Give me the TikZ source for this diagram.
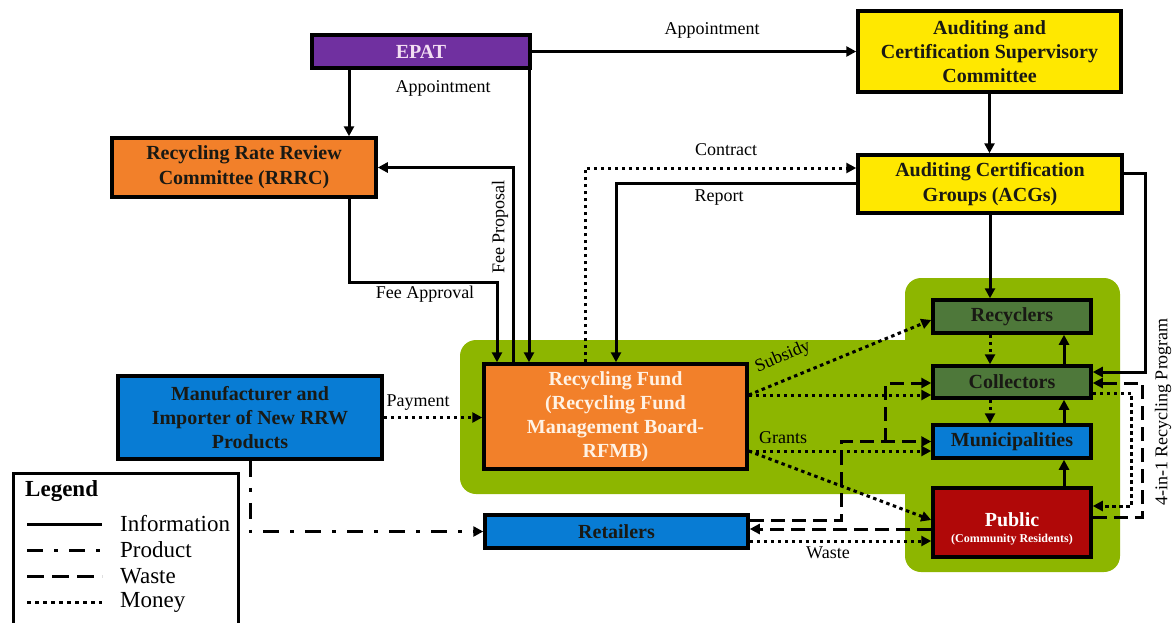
\documentclass[tikz,border=0pt]{standalone}
\usepackage{fontspec}
\setmainfont{Liberation Serif}
\usetikzlibrary{arrows.meta,calc}
\definecolor{cpurple}{RGB}{112,48,160}
\definecolor{cyellow}{RGB}{255,232,0}
\definecolor{corange}{RGB}{242,128,42}
\definecolor{cblue}{RGB}{8,124,212}
\definecolor{cdkgreen}{RGB}{78,120,58}
\definecolor{cred}{RGB}{176,8,8}
\definecolor{cbg}{RGB}{141,182,0}
\definecolor{epattext}{RGB}{242,222,242}
\definecolor{rftext}{RGB}{255,242,228}
\definecolor{darktext}{RGB}{25,25,20}
\tikzset{
  box/.style={draw=black, line width=3.5pt, inner sep=0pt, align=center, text=darktext,
    font=\fontsize{20}{24}\selectfont\bfseries},
  ln/.style={line width=3pt},
  arr/.style={-{Triangle[length=10pt,width=10pt]}},
  info/.style={ln},
  money/.style={ln, dash pattern=on 3.5pt off 3.5pt},
  waste/.style={ln, dash pattern=on 14pt off 7pt},
  product/.style={ln, dash pattern=on 16pt off 11pt on 4pt off 11pt},
  lbl/.style={font=\fontsize{18}{20}\selectfont, inner sep=1pt, text=black},
  legtxt/.style={font=\fontsize{23}{26}\selectfont, inner sep=0pt, anchor=west}
}
\begin{document}
\begin{tikzpicture}[x=1pt,y=-1pt]
\useasboundingbox (0,0) rectangle (1174,622);
% green background
\fill[cbg, rounded corners=16pt] (460,340) rectangle (1000,494);
\fill[cbg, rounded corners=16pt] (905,278) rectangle (1120,572);

% nodes
\node[box, fill=cpurple, text=epattext, minimum width=218pt, minimum height=33pt] (epat) at (421,51.5) {EPAT};
\node[box, fill=cyellow, minimum width=263pt, minimum height=81pt] (acsc) at (989.5,51.5) {Auditing and\\Certification Supervisory\\Committee};
\node[box, fill=corange, minimum width=264pt, minimum height=59pt, font=\fontsize{20}{25}\selectfont\bfseries] (rrrc) at (244,167.5) {Recycling Rate Review\\Committee (RRRC)};
\node[box, fill=cyellow, minimum width=264pt, minimum height=58pt, font=\fontsize{20}{25}\selectfont\bfseries] (acg) at (990,184) {Auditing Certification\\Groups (ACGs)};
\node[box, fill=corange, text=rftext, minimum width=263pt, minimum height=105pt] (rf) at (615.5,416.5) {Recycling Fund\\(Recycling Fund\\Management Board-\\RFMB)};
\node[box, fill=cblue, minimum width=264pt, minimum height=83pt] (man) at (250,417.5) {Manufacturer and\\Importer of New RRW\\Products};
\node[box, fill=cblue, minimum width=263pt, minimum height=33pt] (ret) at (616.5,531.5) {Retailers};
\node[box, fill=cdkgreen, minimum width=158pt, minimum height=33pt] (rec) at (1012,316.5) {Recyclers};
\node[box, fill=cdkgreen, minimum width=158pt, minimum height=32pt] (col) at (1012,382) {Collectors};
\node[box, fill=cblue, minimum width=158pt, minimum height=33pt] (mun) at (1012,441.5) {Municipalities};
\node[box, fill=cred, text=white, minimum width=158pt, minimum height=69pt] (pub) at (1012,522.5) {{\fontsize{20}{24}\selectfont\rule{0pt}{26pt}Public}\\[-8pt]{\fontsize{12}{14}\selectfont (Community Residents)}};

% connectors
\draw[info, arr] (epat.east) -- (acsc.west);
\draw[info, arr] ([xshift=-72pt]epat.south) -- ([xshift=105pt]rrrc.north);
\draw[info, arr] ([xshift=108pt]epat.south) -- ([xshift=-86.5pt]rf.north);
\draw[info, arr] ([xshift=-102.5pt]rf.north) |- (rrrc.east);
\draw[info, arr] ([xshift=105pt]rrrc.south) -- ++(0,84) -| ([xshift=-118.5pt]rf.north);
\draw[money, arr] ([xshift=-30.5pt]rf.north) |- ([yshift=16pt]acg.west);
\draw[info, arr] ([yshift=1pt]acg.west) -| ([xshift=0.5pt]rf.north);
\draw[info, arr] (acsc.south) -- (acsc.south |- acg.north);
\draw[info, arr] (acg.south) -- (acg.south |- rec.north);
\draw[info, arr] ([yshift=11pt]acg.east) -- ++(22,0) |- ([yshift=10pt]col.east);
\draw[waste, arr] ([yshift=5.5pt]pub.east) -- ++(50,0) |- ([yshift=-1pt]col.east);
\draw[money, arr] ([yshift=-11pt]col.east) -- ++(39,0) |- ([yshift=16.5pt]pub.east);

\draw[info, arr] ([xshift=52pt]pub.north) -- ([xshift=52pt]mun.south);
\draw[info, arr] ([xshift=52pt]mun.north) -- ([xshift=52pt]col.south);
\draw[info, arr] ([xshift=52pt]col.north) -- ([xshift=52pt]rec.south);
\draw[money, arr] ([xshift=-22pt]rec.south) -- ([xshift=-22pt]col.north);
\draw[money, arr] ([xshift=-22pt]col.south) -- ([xshift=-22pt]mun.north);

\draw[money, arr] ([yshift=21.5pt]rf.east) -- ([yshift=-3.5pt]rec.west);
\draw[money, arr] ([yshift=21.5pt]rf.east) -- ([yshift=-13pt]col.west);
\draw[money, arr] ([yshift=-34.5pt]rf.east) -- ([yshift=-9.5pt]mun.west);
\draw[money, arr] ([yshift=-34.5pt]rf.east) -- ([yshift=2.5pt]pub.west);

\draw[waste, arr] ([yshift=11.5pt]ret.east) -- ++(92,0) |- (mun.west);
\draw[waste, arr] ([xshift=-46pt]mun.west) |- ([yshift=-1pt]col.west);
\draw[waste, arr] ([yshift=-6.5pt]pub.west) -- ([yshift=2.5pt]ret.east);
\draw[money, arr] ([yshift=-9.5pt]ret.east) -- ([yshift=-18.5pt]pub.west);

\draw[money, arr] (man.east) -- (man.east -| rf.west);
\draw[product, arr] (man.south) |- (ret.west);

% labels
\node[lbl] (lAppA) at (712,30) {Appointment};
\node[lbl] (lAppB) at (443,88) {Appointment};
\node[lbl] (lContract) at (726,150) {Contract};
\node[lbl] (lReport) at (719,198) {Report};
\node[lbl, rotate=90] (lFeeP) at (500,227) {Fee Proposal};
\node[lbl] (lFeeA) at (425,294) {Fee Approval};
\node[lbl] (lPay) at (418,403) {Payment};
\node[lbl, rotate=23, inner sep=0pt] (lSub) at (783,357) {Subsidy};
\node[lbl] (lGrants) at (783,438) {Grants};
\node[lbl] (lWaste) at (828,553) {Waste};
\node[lbl, rotate=90] (lProg) at (1163,412) {4-in-1 Recycling Program};

% legend
\draw[line width=3pt] (13,630) -- (13,473) -- (238,473) -- (238,630);
\node[legtxt, font=\fontsize{23}{26}\selectfont\bfseries] (legT) at (25,491) {Legend};
\draw[ln] (27,524) -- (102,524);
\draw[product] (27,550) -- (102,550);
\draw[ln, dash pattern=on 17pt off 8pt] (27,576) -- (102,576);
\draw[ln, dash pattern=on 4pt off 4pt] (27,602) -- (102,602);
\node[legtxt] (legI) at (120,524) {Information};
\node[legtxt] (legP) at (120,550) {Product};
\node[legtxt] (legW) at (120,576) {Waste};
\node[legtxt] (legM) at (120,602) {Money};
\end{tikzpicture}
\end{document}
